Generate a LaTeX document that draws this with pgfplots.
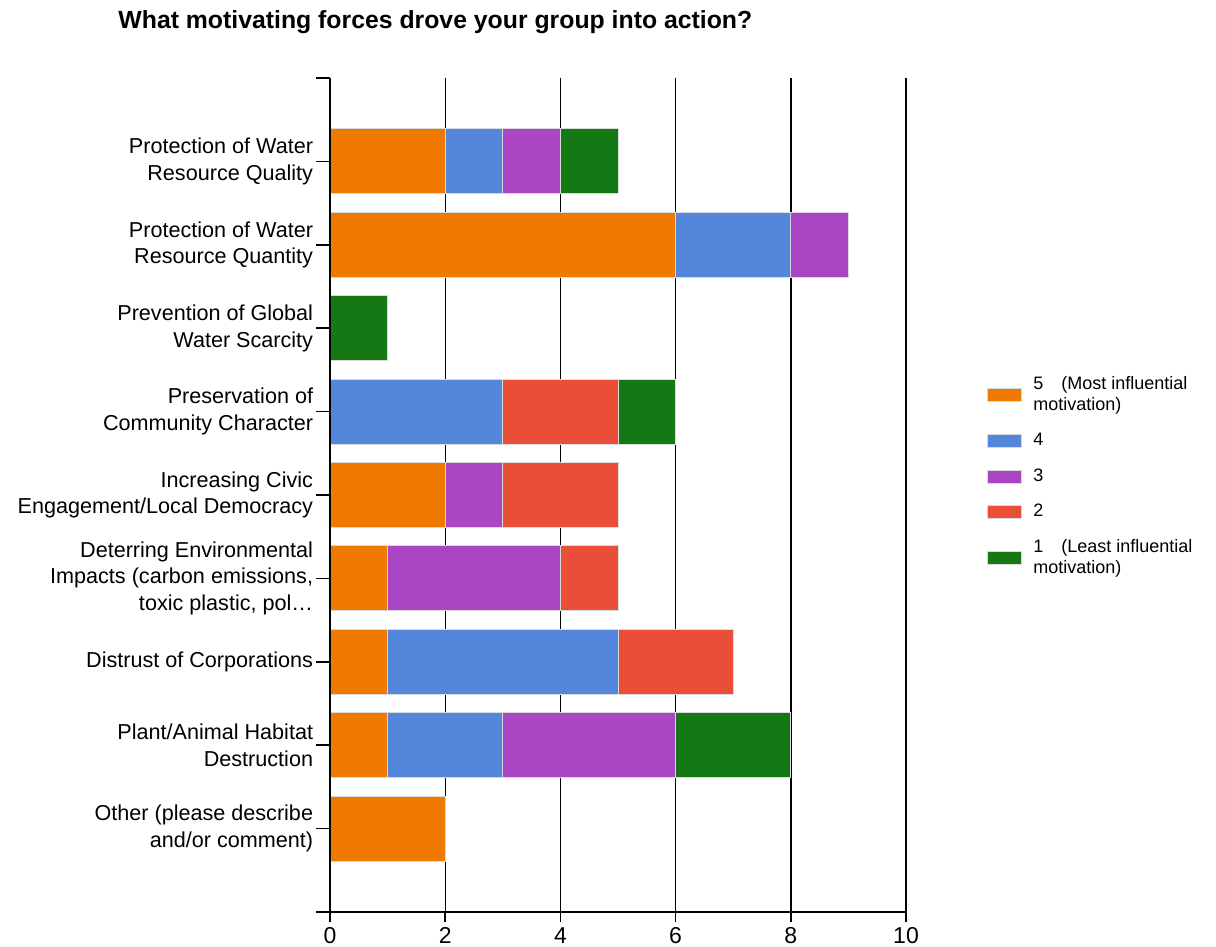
\documentclass[border=0pt]{standalone}
\usepackage{fontspec}
\setmainfont{Liberation Sans}
\usepackage{pgfplots}
\usepackage{pgfplotstable}
\pgfplotsset{compat=1.18}

\definecolor{c5}{RGB}{240,122,0}
\definecolor{c4}{RGB}{84,134,220}
\definecolor{c3}{RGB}{170,70,196}
\definecolor{c2}{RGB}{232,78,56}
\definecolor{c1}{RGB}{20,120,20}
\definecolor{barborder}{RGB}{218,218,218}

\pgfplotsset{
  layers/mylayers/.define layer set={
    axis background,axis grid,pre main,main,axis ticks,axis lines,axis tick labels,
    axis descriptions,axis foreground
  }{
    grid style={/pgfplots/on layer=axis grid},
    tick style={/pgfplots/on layer=axis ticks},
    axis line style={/pgfplots/on layer=axis lines},
    label style={/pgfplots/on layer=axis descriptions},
    legend style={/pgfplots/on layer=axis descriptions},
    title style={/pgfplots/on layer=axis descriptions},
    colorbar style={/pgfplots/on layer=axis descriptions},
    ticklabel style={/pgfplots/on layer=axis tick labels},
    axis background@ style={/pgfplots/on layer=axis background},
    3d box foreground style={/pgfplots/on layer=axis foreground},
  },
}

% y = position from bottom (Other = 1 ... Quality = 9)
\pgfplotstableread{
y  s5 s4 s3 s2 s1
9  2  1  1  0  1
8  6  2  1  0  0
7  0  0  0  0  1
6  0  3  0  2  1
5  2  0  1  2  0
4  1  0  3  1  0
3  1  4  0  2  0
2  1  2  3  0  2
1  2  0  0  0  0
}\data

\begin{document}
\begin{tikzpicture}
\begin{axis}[
  set layers=mylayers,
  scale only axis,
  width=288pt, height=417pt,
  at={(165pt,17.5pt)}, anchor=south west,
  xbar stacked,
  bar width=32.5pt,
  xmin=0, xmax=10, ymin=0, ymax=10,
  xtick={0,2,...,10},
  ytick={0,1,...,10},
  yticklabels={,{Other (please describe\\and/or comment)},{Plant/Animal Habitat\\Destruction},{Distrust of Corporations},{Deterring Environmental\\Impacts (carbon emissions,\\toxic plastic, pol\dots},{Increasing Civic\\Engagement/Local Democracy},{Preservation of\\Community Character},{Prevention of Global\\Water Scarcity},{Protection of Water\\Resource Quantity},{Protection of Water\\Resource Quality},},
  axis x line*=bottom,
  axis y line*=left,
  axis line style={black, line width=0.75pt},
  tick align=outside,
  xmajorgrids,
  grid style={black, line width=0.7pt},
  xtick style={black, line width=0.75pt, /pgfplots/major tick length=5pt},
  ytick style={black, line width=0.75pt, /pgfplots/major tick length=7pt},
  /pgf/number format/assume math mode=true,
  xticklabel style={font=\fontsize{11.5}{13}\selectfont, inner sep=1pt, yshift=-2.5pt},
  yticklabel style={font=\fontsize{10.8}{13.3}\selectfont, align=right, inner sep=1.5pt, xshift=-2.5pt},
  every axis title shift=0pt,
  title={\bfseries What motivating forces drove your group into action?},
  title style={at={(-0.368,1.067)}, anchor=west, font=\fontsize{12.4}{14}\selectfont, inner sep=0pt},
  legend style={at={(1.1406,0.522)}, anchor=west, draw=none, fill=none,
    font=\fontsize{9}{10.5}\selectfont, cells={anchor=west, align=left},
    row sep=10pt, column sep=5.5pt, inner sep=0pt, nodes={inner sep=0pt}},
  legend image code/.code={\draw[#1] (0pt,-3.25pt) rectangle (17pt,3.25pt);},
  every axis plot/.append style={draw=barborder, line width=0.5pt},
]
\addplot[fill=c5] table[x=s5, y=y] {\data};
\addlegendentry{5\hspace{9pt}(Most influential\\motivation)}
\addplot[fill=c4] table[x=s4, y=y] {\data};
\addlegendentry{4}
\addplot[fill=c3] table[x=s3, y=y] {\data};
\addlegendentry{3}
\addplot[fill=c2] table[x=s2, y=y] {\data};
\addlegendentry{2}
\addplot[fill=c1] table[x=s1, y=y] {\data};
\addlegendentry{1\hspace{9pt}(Least influential\\motivation)}
\end{axis}
\pgfresetboundingbox
\useasboundingbox (0,0) rectangle (608pt,473.5pt);
\end{tikzpicture}
\end{document}
